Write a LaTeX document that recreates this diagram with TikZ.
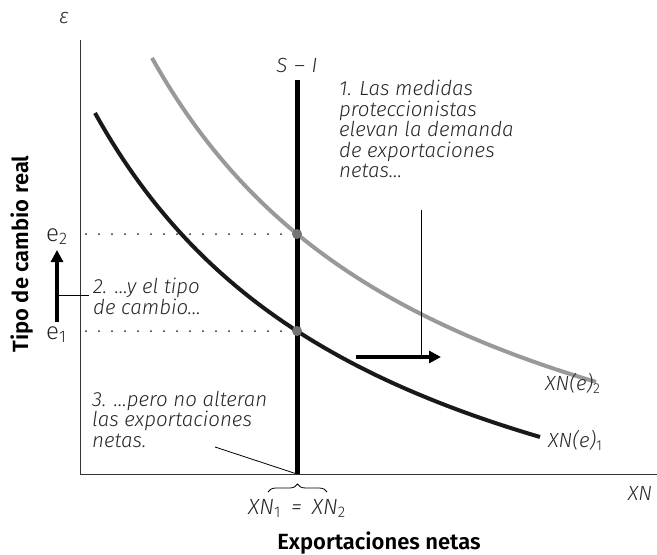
\documentclass[tikz,border=0pt]{standalone}
\usepackage{fontspec}
\setmainfont{Fira Sans Light}[ItalicFont={Fira Sans Light Italic},BoldFont={Fira Sans SemiBold}]
\usetikzlibrary{decorations.pathreplacing,arrows.meta}
\begin{document}
\begin{tikzpicture}[x=1pt,y=-1pt,
  lbl/.style={font=\fontsize{20.5}{20.5}\selectfont\itshape,align=left,inner sep=0pt,text=black!85},
  axislbl/.style={font=\fontsize{22}{26}\selectfont\bfseries,inner sep=0pt},
  elbl/.style={font=\fontsize{24}{26}\selectfont,inner sep=0pt,anchor=base west,text=black!85},
  axisline/.style={line width=0.9pt,draw=black!80},
  thin/.style={line width=0.8pt,draw=black},
  curveone/.style={line width=4pt,draw=black!90},
  curvetwo/.style={line width=4pt,draw=black!40},
  dotline/.style={line width=2pt,dash pattern=on 0pt off 13pt,line cap=round,draw=black!85},
  bigarrow/.style={line width=4.5pt,draw=black,-{Triangle[length=12pt,width=12pt]}},
  eq/.style={circle,fill=black!55,inner sep=0pt,minimum size=10pt}]
\useasboundingbox (0,0) rectangle (657,555);
% axes
\coordinate (O) at (80,474);
\coordinate (Ytop) at (80,40);
\coordinate (Xend) at (657,474);
\draw[axisline] (Ytop) -- (O) -- (Xend);
\node[font=\fontsize{21}{26}\selectfont\itshape,inner sep=0pt,text=black!85] (eps) at (64,18) {ε};
\node[lbl,anchor=base] (xn) at (640,500) {XN};
\node[axislbl,anchor=base] (xlab) at (379,549) {Exportaciones netas};
\node[axislbl,rotate=90,anchor=base] (ylab) at (28,254) {Tipo de cambio real};
% curves
\draw[curvetwo] plot[domain=152:596,samples=80] (\x,{605 - 1672.35/((\x+153.7)/100)});
\draw[curveone] plot[domain=95:540,samples=80] (\x,{656.7 - 1640.89/((\x+206.8)/100)});
% S-I
\coordinate (SItop) at (297,80);
\coordinate (SIbot) at (297,474);
\draw[line width=5pt,draw=black] (SItop) -- (SIbot);
\node[lbl,anchor=base] (silab) at (297,72) {S\,\,–\,\,I};
% dotted lines
\coordinate (d2) at (86,234);
\coordinate (d1) at (86,331);
\node[eq] (E2) at (297,234) {};
\node[eq] (E1) at (297,331) {};
\draw[dotline] (d2) -- (E2.west);
\draw[dotline] (d1) -- (E1.west);
% e labels
\node[elbl] (e2) at (46,241) {e\textsubscript{2}};
\node[elbl] (e1) at (46,339) {e\textsubscript{1}};
\coordinate (ya) at (57,322);
\coordinate (yb) at (57,250);
\draw[bigarrow] (ya) -- (yb);
% annotation 2
\node[lbl,anchor=north west] (t2) at (93,278) {2. …y el tipo\\de cambio…};
\coordinate (c2a) at (57,295);
\coordinate (c2b) at (89,295);
\draw[thin] (c2a) -- (c2b);
% annotation 1
\node[lbl,anchor=north west] (t1) at (339,80) {1. Las medidas\\proteccionistas\\elevan la demanda\\de exportaciones\\netas…};
\coordinate (c1a) at (421,210);
\coordinate (c1b) at (421,357);
\draw[thin] (c1a) -- (c1b);
\coordinate (xa) at (356,357);
\coordinate (xb) at (441,357);
\draw[bigarrow] (xa) -- (xb);
% curve labels
\node[lbl,anchor=base west] (l2) at (545,390) {XN(e)\textsubscript{\upshape 2}};
\node[lbl,anchor=base west] (l1) at (548,447) {XN(e)\textsubscript{\upshape 1}};
% annotation 3
\node[lbl,anchor=north west] (t3) at (92,391) {3. …pero no alteran\\las exportaciones\\netas.};
\coordinate (c3a) at (215,447);
\draw[thin] (c3a) -- (SIbot);
% brace
\coordinate (ba) at (268,492);
\coordinate (bb) at (327,492);
\draw[thin,decorate,decoration={brace,amplitude=8pt}] (ba) -- (bb);
\node[lbl,anchor=base,font=\fontsize{22}{24}\selectfont\itshape] (xneq) at (297,514) {XN\textsubscript{\upshape 1}\hspace{10pt}=\hspace{10pt}XN\textsubscript{\upshape 2}};
\end{tikzpicture}
\end{document}
